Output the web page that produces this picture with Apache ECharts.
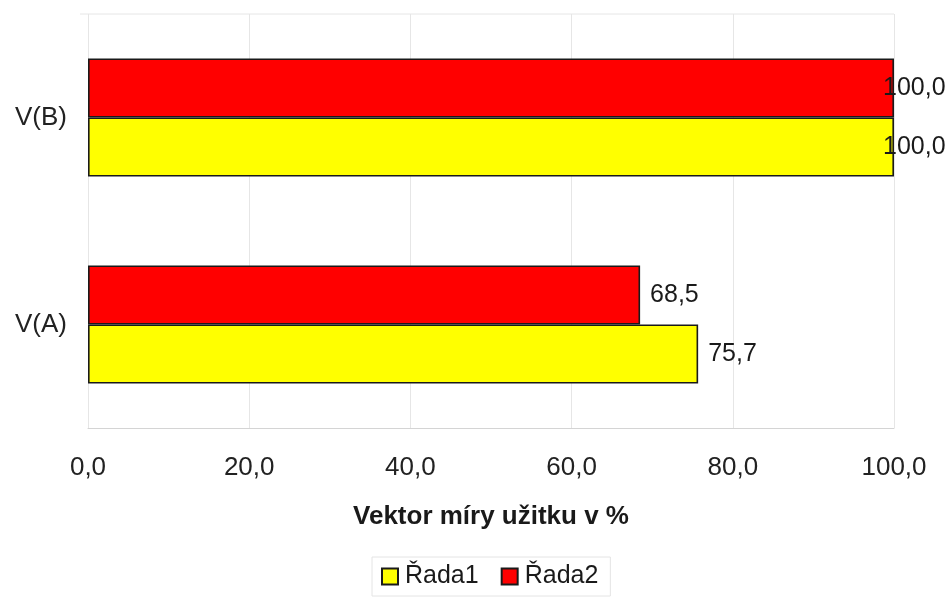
<!DOCTYPE html>
<html>
<head>
<meta charset="utf-8">
<script src="https://cdn.jsdelivr.net/npm/echarts@6/dist/echarts.min.js"></script>
<style>
  html, body { margin: 0; padding: 0; background: #fff; }
  #chart { width: 952px; height: 598px; }
</style>
</head>
<body>
<div id="chart"></div>
<script>
// Categories (bottom to top) and series values
const categories = ['V(A)', 'V(B)'];
const rada1 = [75.7, 100.0];
const rada2 = [68.5, 100.0];
const seriesNames = ['Řada1', 'Řada2'];
const axisTitle = 'Vektor míry užitku v %';

const fmt = v => v.toFixed(1).replace('.', ',');
const FONT = '"Liberation Sans", Arial, sans-serif';

// Labels at the full-scale end are pulled back so they stay inside the canvas
function toItems(values) {
  return values.map(v => v >= 100
    ? { value: v, label: { offset: [-21, 0] } }
    : { value: v });
}

const chart = echarts.init(document.getElementById('chart'), null, { renderer: 'canvas' });

const barLabel = {
  show: true,
  position: 'right',
  distance: 10,
  color: '#1a1a1a',
  fontFamily: FONT,
  fontSize: 25,
  formatter: p => fmt(p.value)
};

const barStyle = color => ({ color: color, borderColor: '#1a1a1a', borderWidth: 1.6 });

chart.setOption({
  animation: false,
  grid: { left: 88, right: 58, top: 14, bottom: 170, containLabel: false },
  xAxis: {
    type: 'value',
    min: 0,
    max: 100,
    interval: 20,
    name: axisTitle,
    nameLocation: 'middle',
    nameGap: 76,
    nameTextStyle: { fontFamily: FONT, fontSize: 26, fontWeight: 'bold', color: '#1a1a1a' },
    axisLine: { show: true, lineStyle: { color: '#d4d4d4', width: 1 } },
    axisTick: { show: false },
    axisLabel: { formatter: v => fmt(v), fontFamily: FONT, fontSize: 26, color: '#222', margin: 27 },
    splitLine: { show: true, lineStyle: { color: '#e6e6e6', width: 1 } }
  },
  yAxis: {
    type: 'category',
    data: categories,
    axisLine: { show: false },
    axisTick: { show: false },
    axisLabel: { fontFamily: FONT, fontSize: 26, color: '#222', margin: 21 },
    splitLine: { show: false }
  },
  legend: {
    data: seriesNames,
    icon: 'rect',
    left: 372,
    top: 557,
    padding: [7, 12, 7, 9],
    itemGap: 22,
    itemWidth: 16,
    itemHeight: 16,
    borderColor: '#e4e4e4',
    borderWidth: 1,
    textStyle: { fontFamily: FONT, fontSize: 25, color: '#1a1a1a', padding: [0, 0, 0, 2] }
  },
  // Řada2 is listed first so its bar sits above Řada1 within each category
  series: [
    {
      name: seriesNames[1],
      type: 'bar',
      data: toItems(rada2),
      barWidth: 59,
      barGap: '0%',
      itemStyle: barStyle('#ff0000'),
      label: barLabel
    },
    {
      name: seriesNames[0],
      type: 'bar',
      data: toItems(rada1),
      barWidth: 59,
      barGap: '0%',
      itemStyle: barStyle('#ffff00'),
      label: barLabel
    }
  ],
  // Top edge of the plot frame
  graphic: [{
    type: 'line',
    shape: { x1: 80, y1: 14, x2: 894, y2: 14 },
    style: { stroke: '#e6e6e6', lineWidth: 1 },
    silent: true
  }]
});
</script>
</body>
</html>
